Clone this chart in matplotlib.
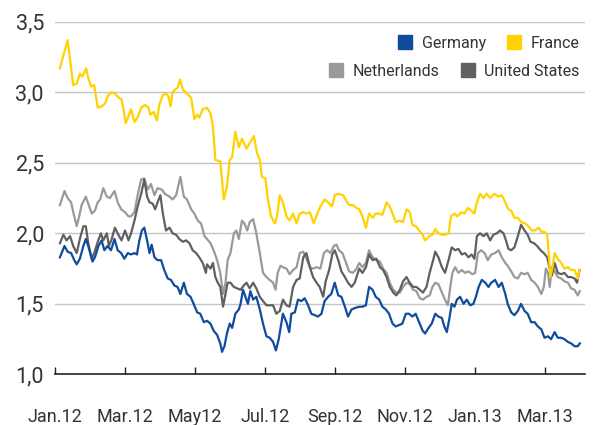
import matplotlib
matplotlib.use("Agg")
import matplotlib.pyplot as plt
from matplotlib.lines import Line2D

plt.rcParams['font.family'] = ['Roboto', 'DejaVu Sans']

# x positions in months since 1 Jan 2012
germany_x = [0.14, 0.27, 0.36, 0.46, 0.55, 0.62, 0.71, 0.81, 0.88, 0.95, 1.07, 1.14, 1.24, 1.33, 1.41, 1.50, 1.60, 1.70, 1.79, 1.89, 1.98, 2.08, 2.17,
             2.27, 2.34, 2.41, 2.48, 2.55, 2.63, 2.70, 2.76, 2.84, 2.93, 3.03, 3.12, 3.22, 3.31, 3.41, 3.50, 3.58, 3.68, 3.77, 3.87, 3.96, 4.06, 4.15, 4.25,
             4.34, 4.44, 4.53, 4.63, 4.72, 4.77, 4.84, 4.91, 4.99, 5.06, 5.15, 5.25, 5.30, 5.37, 5.44, 5.51, 5.58, 5.66, 5.75, 5.85, 5.94, 6.04, 6.13, 6.23, 6.31, 6.39,
             6.51, 6.61, 6.69, 6.75, 6.85, 6.94, 7.04, 7.13, 7.23, 7.32, 7.42, 7.51, 7.61, 7.70, 7.80, 7.89, 7.99, 8.09, 8.18, 8.28, 8.37, 8.47, 8.56,
             8.69, 8.78, 8.88, 8.97, 9.07, 9.16, 9.26, 9.35, 9.45, 9.54, 9.64, 9.73, 9.83, 9.92, 10.02, 10.11, 10.21, 10.30, 10.40, 10.50, 10.57, 10.67, 10.76,
             10.86, 10.95, 11.05, 11.12, 11.19, 11.26, 11.33, 11.41, 11.48, 11.57, 11.67, 11.76, 11.86, 11.95, 12.02, 12.10, 12.19, 12.29, 12.38, 12.46, 12.57, 12.67, 12.76, 12.86, 12.93,
             13.03, 13.12, 13.22, 13.31, 13.41, 13.50, 13.60, 13.70, 13.79, 13.89, 13.98, 14.08, 14.17, 14.27, 14.36, 14.46, 14.55, 14.65, 14.74, 14.84, 14.93, 14.99]
germany = [1.83, 1.91, 1.87, 1.86, 1.81, 1.78, 1.82, 1.91, 1.96, 1.91, 1.80, 1.83, 1.91, 1.95, 1.88, 1.91, 1.88, 1.96, 1.88, 1.86, 1.82, 1.86, 1.85,
           1.86, 1.85, 1.95, 2.02, 2.04, 1.95, 1.86, 1.92, 1.83, 1.81, 1.81, 1.74, 1.68, 1.67, 1.63, 1.62, 1.57, 1.65, 1.57, 1.55, 1.50, 1.44, 1.43, 1.37,
           1.38, 1.36, 1.31, 1.28, 1.22, 1.16, 1.20, 1.29, 1.36, 1.33, 1.43, 1.46, 1.50, 1.60, 1.55, 1.50, 1.59, 1.53, 1.55, 1.46, 1.36, 1.27, 1.26, 1.23, 1.17, 1.25,
           1.43, 1.37, 1.30, 1.43, 1.44, 1.53, 1.52, 1.54, 1.49, 1.43, 1.42, 1.41, 1.43, 1.52, 1.55, 1.57, 1.65, 1.56, 1.55, 1.48, 1.41, 1.46, 1.47,
           1.48, 1.48, 1.49, 1.62, 1.60, 1.55, 1.53, 1.48, 1.46, 1.43, 1.36, 1.34, 1.35, 1.36, 1.43, 1.43, 1.41, 1.43, 1.37, 1.31, 1.29, 1.33, 1.36,
           1.43, 1.41, 1.40, 1.34, 1.30, 1.39, 1.50, 1.48, 1.53, 1.55, 1.50, 1.53, 1.49, 1.50, 1.55, 1.62, 1.67, 1.65, 1.62, 1.65, 1.67, 1.62, 1.65, 1.57, 1.50,
           1.44, 1.42, 1.45, 1.50, 1.45, 1.43, 1.37, 1.37, 1.34, 1.32, 1.26, 1.27, 1.25, 1.30, 1.26, 1.26, 1.25, 1.23, 1.22, 1.20, 1.20, 1.22]

france_x = [0.14, 0.36, 0.52, 0.62, 0.71, 0.78, 0.89, 0.95, 1.03, 1.12, 1.22, 1.33, 1.43, 1.52, 1.62, 1.71, 1.83, 1.90, 1.95, 2.02, 2.10, 2.17,
            2.27, 2.36, 2.46, 2.57, 2.67, 2.72, 2.82, 2.91, 2.98, 3.08, 3.17, 3.24, 3.30, 3.36, 3.43, 3.50, 3.57, 3.65, 3.77, 3.89, 3.98, 4.06, 4.12, 4.22,
            4.34, 4.44, 4.51, 4.58, 4.72, 4.82, 4.91, 4.99, 5.06, 5.15, 5.25, 5.34, 5.47, 5.56, 5.68, 5.77, 5.85, 5.91, 6.01, 6.08, 6.17, 6.28, 6.34, 6.42,
            6.51, 6.61, 6.70, 6.80, 6.90, 6.99, 7.09, 7.18, 7.28, 7.39, 7.49, 7.58, 7.70, 7.80, 7.91, 7.99, 8.09, 8.23, 8.34, 8.42, 8.51, 8.61,
            8.69, 8.78, 8.88, 8.97, 9.07, 9.16, 9.26, 9.35, 9.47, 9.56, 9.64, 9.73, 9.85, 9.94, 10.04, 10.13, 10.21, 10.31, 10.40, 10.50, 10.57, 10.69, 10.78,
            10.86, 10.95, 11.05, 11.14, 11.24, 11.31, 11.41, 11.50, 11.60, 11.70, 11.79, 11.89, 11.98, 12.05, 12.14, 12.24, 12.33, 12.43, 12.55, 12.67, 12.76, 12.86, 12.95,
            13.03, 13.12, 13.22, 13.31, 13.43, 13.52, 13.62, 13.71, 13.81, 13.90, 13.98, 14.06, 14.10, 14.15, 14.21, 14.27, 14.36, 14.46, 14.55, 14.65, 14.74, 14.84, 14.93, 14.98]
france = [3.17, 3.37, 3.05, 3.06, 3.13, 3.11, 3.17, 3.10, 3.04, 3.05, 2.89, 2.90, 2.92, 2.98, 3.00, 2.99, 2.96, 2.95, 2.89, 2.78, 2.83, 2.88,
          2.79, 2.82, 2.89, 2.91, 2.89, 2.84, 2.86, 2.80, 2.91, 2.98, 2.99, 2.97, 2.90, 3.00, 3.02, 3.03, 3.09, 3.02, 2.99, 2.96, 2.81, 2.84, 2.82, 2.88,
          2.89, 2.85, 2.76, 2.52, 2.51, 2.24, 2.33, 2.52, 2.54, 2.72, 2.61, 2.67, 2.60, 2.64, 2.69, 2.57, 2.52, 2.40, 2.39, 2.24, 2.12, 2.07, 2.12, 2.27,
          2.22, 2.12, 2.09, 2.14, 2.07, 2.14, 2.15, 2.14, 2.15, 2.07, 2.14, 2.19, 2.24, 2.22, 2.19, 2.27, 2.28, 2.27, 2.22, 2.20, 2.20, 2.18,
          2.17, 2.12, 2.04, 2.14, 2.11, 2.14, 2.14, 2.13, 2.22, 2.19, 2.14, 2.08, 2.09, 2.08, 2.17, 2.15, 2.06, 2.05, 2.02, 1.99, 1.95, 1.98, 1.99,
          2.03, 2.00, 1.99, 1.99, 2.00, 2.12, 2.14, 2.12, 2.15, 2.14, 2.18, 2.16, 2.14, 2.22, 2.28, 2.25, 2.28, 2.25, 2.28, 2.26, 2.27, 2.22, 2.17,
          2.16, 2.11, 2.11, 2.08, 2.07, 2.05, 2.02, 2.02, 2.04, 2.01, 2.01, 1.99, 1.86, 1.69, 1.76, 1.86, 1.82, 1.79, 1.75, 1.76, 1.74, 1.74, 1.68, 1.74]

netherlands_x = [0.14, 0.27, 0.36, 0.46, 0.52, 0.62, 0.69, 0.76, 0.88, 0.95, 1.05, 1.14, 1.22, 1.29, 1.38, 1.48, 1.57, 1.70, 1.79, 1.89, 2.00, 2.10,
                 2.17, 2.27, 2.36, 2.46, 2.55, 2.65, 2.74, 2.84, 2.93, 3.05, 3.14, 3.27, 3.36, 3.46, 3.58, 3.68, 3.77, 3.89, 3.98, 4.08, 4.17, 4.27,
                 4.34, 4.44, 4.53, 4.63, 4.72, 4.80, 4.87, 4.93, 5.01, 5.11, 5.18, 5.25, 5.34, 5.41, 5.49, 5.56, 5.66, 5.75, 5.85, 5.94, 6.04, 6.13, 6.23, 6.30, 6.36, 6.44,
                 6.51, 6.61, 6.70, 6.80, 6.90, 6.99, 7.09, 7.18, 7.28, 7.37, 7.47, 7.58, 7.68, 7.77, 7.87, 7.96, 8.04, 8.11, 8.21, 8.30, 8.40, 8.50, 8.59,
                 8.69, 8.78, 8.88, 8.97, 9.07, 9.18, 9.28, 9.37, 9.47, 9.56, 9.66, 9.75, 9.85, 9.94, 10.04, 10.13, 10.23, 10.32, 10.42, 10.51, 10.61, 10.70, 10.78,
                 10.86, 10.95, 11.05, 11.14, 11.22, 11.29, 11.35, 11.43, 11.52, 11.62, 11.71, 11.81, 11.92, 12.00, 12.08, 12.17, 12.27, 12.36, 12.46, 12.57, 12.67, 12.76, 12.86, 12.93,
                 13.03, 13.12, 13.22, 13.31, 13.41, 13.50, 13.60, 13.70, 13.79, 13.89, 13.96, 14.02, 14.08, 14.13, 14.19, 14.27, 14.36, 14.46, 14.55, 14.65, 14.74, 14.84, 14.93, 14.99]
netherlands = [2.20, 2.30, 2.25, 2.22, 2.15, 2.05, 2.12, 2.20, 2.26, 2.21, 2.14, 2.16, 2.22, 2.24, 2.32, 2.26, 2.25, 2.30, 2.22, 2.17, 2.15, 2.12,
               2.12, 2.15, 2.27, 2.38, 2.39, 2.31, 2.35, 2.27, 2.32, 2.31, 2.28, 2.26, 2.24, 2.27, 2.40, 2.26, 2.24, 2.17, 2.14, 2.09, 2.07, 1.98,
               1.96, 1.93, 1.88, 1.81, 1.72, 1.57, 1.65, 1.81, 1.86, 2.00, 2.02, 1.96, 2.09, 2.07, 2.02, 2.08, 2.10, 2.00, 1.86, 1.72, 1.69, 1.67, 1.65, 1.60, 1.72, 1.77,
               1.76, 1.75, 1.71, 1.74, 1.76, 1.86, 1.87, 1.82, 1.76, 1.75, 1.76, 1.75, 1.86, 1.88, 1.86, 1.91, 1.92, 1.88, 1.86, 1.80, 1.73, 1.72, 1.74,
               1.79, 1.76, 1.79, 1.88, 1.83, 1.81, 1.80, 1.75, 1.72, 1.65, 1.60, 1.58, 1.58, 1.62, 1.65, 1.64, 1.60, 1.59, 1.54, 1.53, 1.55, 1.56, 1.62,
               1.65, 1.64, 1.58, 1.53, 1.49, 1.62, 1.72, 1.76, 1.72, 1.74, 1.72, 1.73, 1.71, 1.72, 1.86, 1.88, 1.86, 1.81, 1.85, 1.86, 1.88, 1.83, 1.79, 1.77,
               1.73, 1.69, 1.68, 1.72, 1.71, 1.72, 1.67, 1.65, 1.62, 1.57, 1.62, 1.75, 1.72, 1.62, 1.76, 1.73, 1.69, 1.68, 1.66, 1.65, 1.61, 1.60, 1.56, 1.59]

usa_x = [0.14, 0.24, 0.33, 0.43, 0.52, 0.62, 0.71, 0.81, 0.88, 0.95, 1.05, 1.12, 1.22, 1.31, 1.38, 1.48, 1.54, 1.62, 1.71, 1.81, 1.90, 2.00, 2.10,
         2.17, 2.27, 2.36, 2.46, 2.55, 2.63, 2.70, 2.79, 2.86, 2.93, 3.01, 3.08, 3.17, 3.27, 3.36, 3.46, 3.55, 3.65, 3.74, 3.84, 3.93, 4.03, 4.12, 4.22, 4.31,
         4.34, 4.44, 4.51, 4.58, 4.65, 4.72, 4.80, 4.87, 4.93, 5.01, 5.11, 5.20, 5.30, 5.39, 5.47, 5.56, 5.66, 5.75, 5.85, 5.94, 6.04, 6.13, 6.23, 6.32, 6.42,
         6.51, 6.61, 6.70, 6.80, 6.90, 6.99, 7.09, 7.18, 7.28, 7.37, 7.47, 7.56, 7.66, 7.73, 7.83, 7.92, 7.99, 8.09, 8.18, 8.28, 8.37, 8.47, 8.56,
         8.69, 8.78, 8.88, 8.97, 9.07, 9.18, 9.28, 9.37, 9.47, 9.56, 9.66, 9.75, 9.85, 9.94, 10.04, 10.13, 10.23, 10.32, 10.42, 10.51, 10.61, 10.70, 10.80,
         10.86, 10.95, 11.05, 11.14, 11.24, 11.33, 11.43, 11.52, 11.62, 11.71, 11.81, 11.90, 11.98, 12.05, 12.14, 12.24, 12.33, 12.43, 12.52, 12.62, 12.71, 12.81, 12.88, 12.95,
         13.03, 13.12, 13.22, 13.31, 13.41, 13.50, 13.58, 13.68, 13.77, 13.87, 13.96, 14.06, 14.12, 14.19, 14.27, 14.36, 14.46, 14.55, 14.65, 14.74, 14.84, 14.91, 14.98]
usa = [1.93, 1.99, 1.95, 1.98, 1.91, 1.86, 1.96, 2.05, 2.05, 1.93, 1.82, 1.86, 1.94, 2.00, 1.95, 2.00, 1.91, 1.96, 2.04, 1.99, 1.95, 2.02, 1.95,
       2.00, 2.09, 2.19, 2.28, 2.38, 2.26, 2.22, 2.21, 2.17, 2.22, 2.27, 2.14, 2.02, 2.04, 2.00, 1.99, 1.96, 1.94, 1.95, 1.93, 1.88, 1.86, 1.83, 1.79, 1.72,
       1.78, 1.75, 1.79, 1.69, 1.65, 1.62, 1.48, 1.57, 1.65, 1.65, 1.62, 1.61, 1.60, 1.63, 1.65, 1.61, 1.65, 1.61, 1.55, 1.52, 1.49, 1.49, 1.49, 1.43, 1.45,
       1.53, 1.49, 1.48, 1.62, 1.67, 1.68, 1.83, 1.86, 1.76, 1.69, 1.65, 1.62, 1.55, 1.66, 1.74, 1.85, 1.88, 1.81, 1.73, 1.69, 1.65, 1.62, 1.65,
       1.75, 1.72, 1.76, 1.85, 1.81, 1.82, 1.76, 1.74, 1.69, 1.62, 1.58, 1.56, 1.60, 1.66, 1.69, 1.65, 1.62, 1.62, 1.60, 1.58, 1.62, 1.72, 1.81,
       1.87, 1.83, 1.76, 1.72, 1.81, 1.90, 1.88, 1.89, 1.85, 1.86, 1.83, 1.85, 1.82, 1.98, 2.00, 1.98, 2.00, 1.95, 1.99, 2.00, 2.02, 2.00, 1.95, 1.89,
       1.88, 1.90, 1.98, 2.06, 2.02, 1.99, 1.94, 1.93, 1.91, 1.88, 1.86, 1.83, 1.76, 1.70, 1.79, 1.72, 1.71, 1.72, 1.69, 1.69, 1.68, 1.65, 1.74]

tick_pos = [0, 2, 4, 6, 8, 10, 12, 14]
tick_labels = ["Jan.12", "Mar.12", "May12", "Jul.12", "Sep.12", "Nov.12", "Jan.13", "Mar.13"]
y_ticks = [1.0, 1.5, 2.0, 2.5, 3.0, 3.5]

c_germany = "#0f4c9e"
c_france = "#ffd200"
c_nl = "#9a9a9c"
c_us = "#606062"
txt = "#333333"

fig = plt.figure(figsize=(5.94, 4.25), dpi=100)
ax = fig.add_axes([0.0926, 0.119, 0.8924, 0.830])

ax.plot(netherlands_x, netherlands, color=c_nl, lw=1.6, zorder=3)
ax.plot(usa_x, usa, color=c_us, lw=1.6, zorder=4)
ax.plot(germany_x, germany, color=c_germany, lw=1.6, zorder=5)
ax.plot(france_x, france, color=c_france, lw=1.6, zorder=5)

ax.set_xlim(0, 15.14)
ax.set_ylim(1.0, 3.5)

for y in y_ticks[1:]:
    ax.axhline(y, color="#c4c4c4", lw=1.0, zorder=1)

ax.set_yticks(y_ticks)
ax.set_yticklabels([f"{v:.1f}".replace(".", ",") for v in y_ticks])
ax.set_xticks(tick_pos)
ax.set_xticklabels(tick_labels)

ax.tick_params(axis="y", length=0, pad=8, labelsize=15.5, labelcolor=txt)
ax.tick_params(axis="x", direction="in", length=5, width=1, color="#222222",
               pad=24, labelsize=13, labelcolor=txt)

for s in ["left", "right", "top"]:
    ax.spines[s].set_visible(False)
ax.spines["bottom"].set_color("#222222")
ax.spines["bottom"].set_linewidth(1.2)


def square(c):
    return Line2D([], [], marker="s", ls="none", markersize=9.5, markerfacecolor=c, markeredgecolor=c)


leg1 = ax.legend([square(c_germany), square(c_france)], ["Germany", "France"],
                 loc="upper right", bbox_to_anchor=(1.005, 0.982), ncol=2, frameon=False,
                 fontsize=11.5, handlelength=0.9, handletextpad=0.6, columnspacing=1.3,
                 borderpad=0, labelcolor=txt)
ax.add_artist(leg1)
ax.legend([square(c_nl), square(c_us)], ["Netherlands", "United States"],
          loc="upper right", bbox_to_anchor=(1.005, 0.904), ncol=2, frameon=False,
          fontsize=11.5, handlelength=0.9, handletextpad=0.6, columnspacing=1.3,
          borderpad=0, labelcolor=txt)

fig.savefig("out.png", dpi=100)
